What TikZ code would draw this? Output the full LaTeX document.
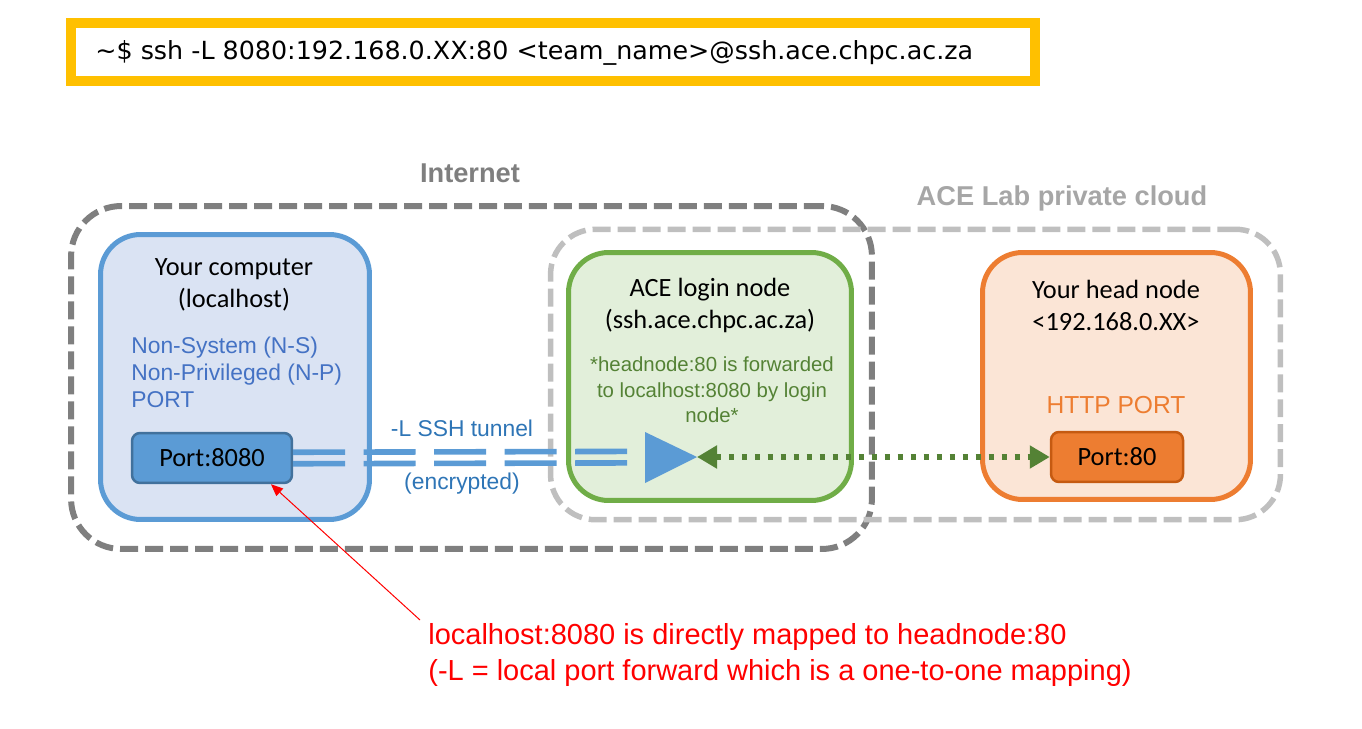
\documentclass[tikz,border=0pt]{standalone}
\usepackage{fontspec}
\setmainfont{Carlito}
\newfontfamily\arialfont{Liberation Sans}
\newfontfamily\cmdfont{DejaVu Sans}
\usetikzlibrary{positioning,arrows.meta}

\definecolor{cmdyellow}{HTML}{FFC000}
\definecolor{netgray}{HTML}{7F7F7F}
\definecolor{cloudgray}{HTML}{BFBFBF}
\definecolor{cloudtext}{HTML}{A6A6A6}
\definecolor{pcblue}{HTML}{5B9BD5}
\definecolor{pcfill}{HTML}{DAE3F3}
\definecolor{pcport}{HTML}{41719C}
\definecolor{pctext}{HTML}{4472C4}
\definecolor{tuntext}{HTML}{2E75B6}
\definecolor{logingreen}{HTML}{70AD47}
\definecolor{loginfill}{HTML}{E2EFDA}
\definecolor{fwdgreen}{HTML}{548235}
\definecolor{headorange}{HTML}{ED7D31}
\definecolor{headfill}{HTML}{FBE5D6}
\definecolor{headport}{HTML}{C55A11}

\tikzset{
  zone/.style={draw, dash pattern=on 0.36cm off 0.14cm, inner sep=0pt},
  zonelabel/.style={font=\arialfont\bfseries\fontsize{15.5}{18}\selectfont},
  machine/.style={draw, rounded corners=0.8cm, line width=0.1cm, inner sep=0pt},
  portbox/.style={draw, rounded corners=0.16cm, line width=0.05cm, inner sep=0pt,
    font=\fontsize{15}{18}\selectfont},
  title/.style={align=center, font=\fontsize{15}{18.2}\selectfont},
  tunnel/.style={draw=pcblue, line width=0.112cm, dash pattern=on 1.04cm off 0.37cm},
  fwd/.style={draw=fwdgreen, line width=0.11cm, dash pattern=on 0.1cm off 0.16cm,
    {Triangle[length=0.4cm,width=0.44cm]}-{Triangle[length=0.4cm,width=0.44cm]}},
  remark/.style={red, line width=0.02cm, -{Triangle[length=0.24cm,width=0.2cm]}}
}

\begin{document}
\begin{tikzpicture}[x=0.02cm, y=-0.02cm, node distance=1.12cm, on grid]
  \useasboundingbox (0,0) rectangle (1362,729);

  % command line
  \node[draw=cmdyellow, line width=0.2cm, minimum width=19.28cm, minimum height=1.16cm] (cmdbox) at (553,52) {};
  \node[anchor=west, inner sep=0pt, font=\cmdfont\fontsize{14.2}{17}\selectfont] (cmd) at (95,53)
    {\resizebox{17.56cm}{\height}{\textasciitilde\$ ssh -L 8080:192.168.0.XX:80 <team\_name>@ssh.ace.chpc.ac.za}};

  % zones
  \node[zone, draw=netgray, line width=0.12cm, rounded corners=1cm, minimum width=16.02cm, minimum height=6.86cm] (internet) at (471.5,377.5) {};
  \node[zone, draw=cloudgray, line width=0.11cm, rounded corners=0.9cm, minimum width=14.6cm, minimum height=5.81cm] (cloud) at (915.5,374.5) {};
  \node[zonelabel, text=netgray] (internetlbl) at (470,173) {Internet};
  \node[zonelabel, text=cloudtext] (cloudlbl) at (1062,198) {ACE Lab private cloud};

  % your computer
  \node[machine, draw=pcblue, fill=pcfill, minimum width=5.38cm, minimum height=5.7cm] (pc) at (235,377) {};
  \node[title] (pctitle) at (234,285) {Your computer\\(localhost)};
  \node[anchor=west, inner sep=0pt, align=left, text=pctext, font=\arialfont\fontsize{13}{15.4}\selectfont] (pcnote) at (131,372)
    {Non-System (N-S)\\Non-Privileged (N-P)\\PORT};
  \node[portbox, draw=pcport, fill=pcblue, minimum width=3.2cm, minimum height=1cm] (p8080) at (212,458) {Port:8080};

  % login node
  \node[machine, draw=logingreen, fill=loginfill, minimum width=5.66cm, minimum height=4.96cm] (login) at (710,376.5) {};
  \node[title] (logintitle) at (710,305) {ACE login node\\(ssh.ace.chpc.ac.za)};
  \node[align=center, text=fwdgreen, font=\arialfont\fontsize{11.6}{14.5}\selectfont] (loginnote) at (712,390)
    {*headnode:80 is forwarded\\to localhost:8080 by login\\node*};
  \fill[pcblue] (645,432) -- (697,457) -- (645,483) -- cycle;
  \coordinate (tip) at (697,457);

  % head node
  \node[machine, draw=headorange, fill=headfill, minimum width=5.36cm, minimum height=4.94cm] (head) at (1116.5,376) {};
  \node[title] (headtitle) at (1116,305) {Your head node\\<192.168.0.XX>};
  \node[text=headorange, font=\arialfont\fontsize{14}{17}\selectfont] (http) at (1116,405) {HTTP PORT};
  \node[portbox, draw=headport, fill=headorange, minimum width=2.64cm, minimum height=1cm] (p80) at (1117,457) {Port:80};

  % tunnel
  \draw[tunnel, shorten >=1.38cm] ([yshift=0.115cm]p8080.east) -- ([yshift=0.115cm]tip);
  \draw[tunnel, shorten >=1.38cm] ([yshift=-0.115cm]p8080.east) -- ([yshift=-0.115cm]tip);
  \node[text=tuntext, font=\arialfont\fontsize{13}{15.4}\selectfont] (tunlbl) at (462,428) {-L SSH tunnel};
  \node[text=tuntext, font=\arialfont\fontsize{13}{15.4}\selectfont, below=of tunlbl] (enclbl) {(encrypted)};

  % forwarding
  \draw[fwd] (tip) -- (p80.west);

  % remark
  \node[anchor=west, inner sep=0pt, align=left, text=red, font=\arialfont\fontsize{16.5}{20.5}\selectfont] (mapnote) at (428,655)
    {localhost:8080 is directly mapped to headnode:80\\(-L = local port forward which is a one-to-one mapping)};
  \coordinate (mapstart) at (420,620);
  \draw[remark] (mapstart) -- (p8080.-24);
\end{tikzpicture}
\end{document}
